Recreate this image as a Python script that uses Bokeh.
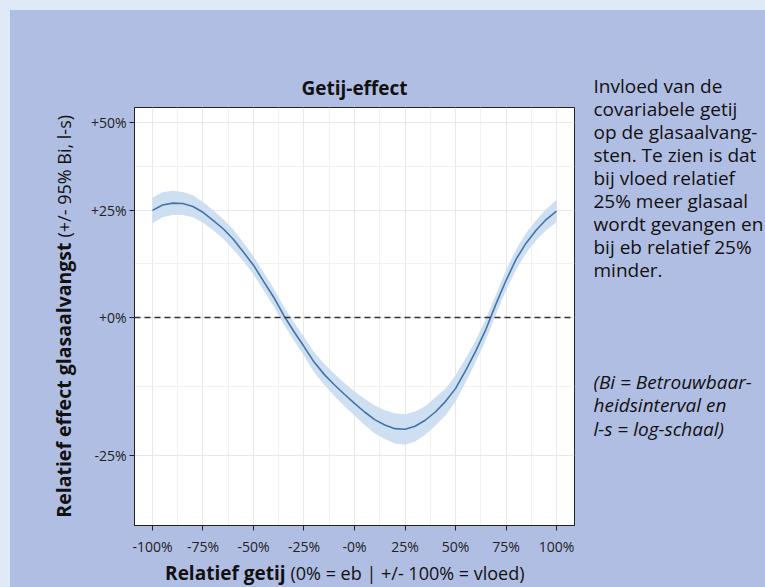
import math
from bokeh.plotting import figure
from bokeh.layouts import row, column
from bokeh.models import Range1d, FixedTicker, Span, ColumnDataSource
from bokeh.core.properties import value
from bokeh.embed import file_html
from bokeh.resources import INLINE

# ---- data ----
tide = [-100, -95, -90, -85, -80, -75, -70, -65, -60, -55, -50, -45, -40, -35, -30,
        -25, -20, -15, -10, -5, 0, 5, 10, 15, 20, 25, 30, 35, 40, 45, 50, 55, 60,
        65, 70, 75, 80, 85, 90, 95, 100]
effect = [1.250, 1.264, 1.269, 1.268, 1.260, 1.245, 1.224, 1.203, 1.177, 1.146, 1.115,
          1.078, 1.043, 1.004, 0.971, 0.941, 0.911, 0.888, 0.869, 0.852, 0.836, 0.821,
          0.808, 0.799, 0.793, 0.792, 0.797, 0.807, 0.821, 0.839, 0.862, 0.895, 0.932,
          0.975, 1.028, 1.080, 1.129, 1.168, 1.200, 1.227, 1.248]
ci_low = [1.217, 1.232, 1.238, 1.238, 1.232, 1.218, 1.199, 1.178, 1.152, 1.124, 1.094,
          1.058, 1.023, 0.986, 0.953, 0.923, 0.892, 0.869, 0.849, 0.831, 0.815, 0.799,
          0.785, 0.776, 0.769, 0.767, 0.772, 0.783, 0.798, 0.815, 0.839, 0.873, 0.911,
          0.954, 1.006, 1.058, 1.105, 1.144, 1.175, 1.200, 1.220]
ci_high = [1.284, 1.298, 1.302, 1.299, 1.290, 1.272, 1.250, 1.228, 1.201, 1.169, 1.136,
           1.098, 1.062, 1.023, 0.990, 0.960, 0.930, 0.908, 0.889, 0.872, 0.857, 0.844,
           0.832, 0.824, 0.819, 0.817, 0.822, 0.831, 0.846, 0.862, 0.886, 0.918, 0.953,
           0.997, 1.049, 1.103, 1.152, 1.193, 1.225, 1.254, 1.277]

x_ticks = [-100, -75, -50, -25, 0, 25, 50, 75, 100]
x_tick_labels = ["-100%", "-75%", "-50%", "-25%", "-0%", "25%", "50%", "75%", "100%"]
x_minor = [-87.5, -62.5, -37.5, -12.5, 12.5, 37.5, 62.5, 87.5]
y_ticks = [0.75, 1.0, 1.25, 1.5]
y_tick_labels = ["-25%", "+0%", "+25%", "+50%"]
y_minor = [0.866, 1.118, 1.369]
reference_level = 1.0

title_text = "Getij-effect"
x_label_bold = "Relatief getij"
x_label_rest = "(0% = eb | +/- 100% = vloed)"
y_label_bold = "Relatief effect glasaalvangst"
y_label_rest = "(+/- 95% Bi, l-s)"
side_lines = ["Invloed van de", "covariabele getij", "op de glasaalvang-",
              "sten. Te zien is dat", "bij vloed relatief", "25% meer glasaal",
              "wordt gevangen en", "bij eb relatief 25%", "minder."]
side_italic = ["(Bi = Betrouwbaar-", "heidsinterval en", "l-s = log-schaal)"]

# ---- layout constants (pixels; content starts at page (10, 10)) ----
FONT = "Open Sans"
BG = "#b1bee3"
EDGE = "#dfe9f7"
INK = "#111111"
W_YLAB, W_MAIN, W_SIDE = 72, 511, 172
H_TITLE, H_MAIN, H_XLAB = 91, 458, 28
H_ALL = H_TITLE + H_MAIN + H_XLAB
FRAME_L, FRAME_R, FRAME_T, FRAME_B = 52, 19, 6, 34
X0, X1 = -108.9, 108.9
Y0, Y1 = 0.648, 1.549
BASE_FIX = 0.42  # measured offset of the rendered alphabetic baseline (in em)


def text_panel(w, h):
    f = figure(width=w, height=h, output_backend="svg", toolbar_location=None,
               title=None, x_range=Range1d(0, w), y_range=Range1d(h, 0),
               x_axis_location=None, y_axis_location=None, min_border=0,
               frame_align=False)
    f.grid.visible = False
    f.outline_line_color = None
    f.background_fill_color = BG
    f.border_fill_color = BG
    return f


def put(f, x, y, txt, size, style="normal", align="left", vertical=False):
    fix = BASE_FIX * size
    if vertical:
        x, angle = x - fix, math.pi / 2
    else:
        y, angle = y - fix, 0.0
    f.text(x=[x], y=[y], text=[txt], text_font=value(FONT),
           text_font_size="%.1fpx" % size, text_font_style=style, text_align=align,
           text_baseline="alphabetic", text_color=INK, angle=angle)


# ---- main chart ----
p = figure(width=W_MAIN, height=H_MAIN, output_backend="svg", toolbar_location=None,
           title=None, x_range=Range1d(X0, X1), y_range=Range1d(Y0, Y1),
           y_axis_type="log", frame_align=False,
           min_border_left=FRAME_L, min_border_right=FRAME_R,
           min_border_top=FRAME_T, min_border_bottom=FRAME_B)
p.background_fill_color = "white"
p.border_fill_color = BG
p.outline_line_color = "#222222"
p.outline_line_width = 1

p.xaxis.ticker = FixedTicker(ticks=x_ticks, minor_ticks=x_minor)
p.yaxis.ticker = FixedTicker(ticks=y_ticks, minor_ticks=y_minor)
p.xaxis.major_label_overrides = dict(zip(x_ticks, x_tick_labels))
p.yaxis.major_label_overrides = dict(zip(y_ticks, y_tick_labels))
for ax in (p.xaxis, p.yaxis):
    ax.axis_line_color = "#222222"
    ax.major_tick_line_color = "#222222"
    ax.major_tick_in = 0
    ax.major_tick_out = 5
    ax.minor_tick_line_color = None
    ax.major_label_text_font = FONT
    ax.major_label_text_font_size = "14px"
    ax.major_label_text_color = "#222222"
p.xaxis.major_label_standoff = 6
p.yaxis.major_label_standoff = 3

for g in (p.xgrid, p.ygrid):
    g.grid_line_color = "#e8e8e8"
    g.grid_line_width = 1
    g.minor_grid_line_color = "#f1f1f1"
    g.minor_grid_line_width = 1

src = ColumnDataSource(dict(x=tide, y=effect, lo=ci_low, hi=ci_high))
p.varea(x="x", y1="lo", y2="hi", source=src, fill_color="#c8dbee", fill_alpha=0.9)
p.line(x="x", y="y", source=src, line_color="#4274a8", line_width=1.6)
p.add_layout(Span(location=reference_level, dimension="width", line_color="#333333",
                  line_dash="6 4", line_width=1.5))

# ---- text panels ----
t_title = text_panel(W_MAIN, H_TITLE)
put(t_title, FRAME_L + 220, 85, title_text, 19, style="bold", align="center")

t_xlab = text_panel(W_MAIN, H_XLAB)
put(t_xlab, 203, 21, x_label_bold, 19, style="bold", align="right")
put(t_xlab, 208, 21, x_label_rest, 18, align="left")

t_ylab = text_panel(W_YLAB, H_ALL)
put(t_ylab, 61, 232, y_label_bold, 19.5, style="bold", align="right", vertical=True)
put(t_ylab, 61, 227, y_label_rest, 18, align="left", vertical=True)

t_side = text_panel(W_SIDE, H_ALL)
for i, line in enumerate(side_lines):
    put(t_side, 0, 83 + 23.1 * i, line, 19)
for i, line in enumerate(side_italic):
    put(t_side, 0, 379 + 23.5 * i, line, 19, style="italic")

layout = row(t_ylab, column(t_title, p, t_xlab), t_side)

html = file_html(layout, INLINE)
page_style = ("<style>html{background:%s;} body{background:%s !important;"
              "border-top:10px solid %s;border-left:10px solid %s;"
              "box-sizing:border-box;}</style>" % (EDGE, BG, EDGE, EDGE))
cut = html.rfind("</head>")
if cut >= 0:
    html = html[:cut] + page_style + html[cut:]
open("out.html", "w").write(html)
